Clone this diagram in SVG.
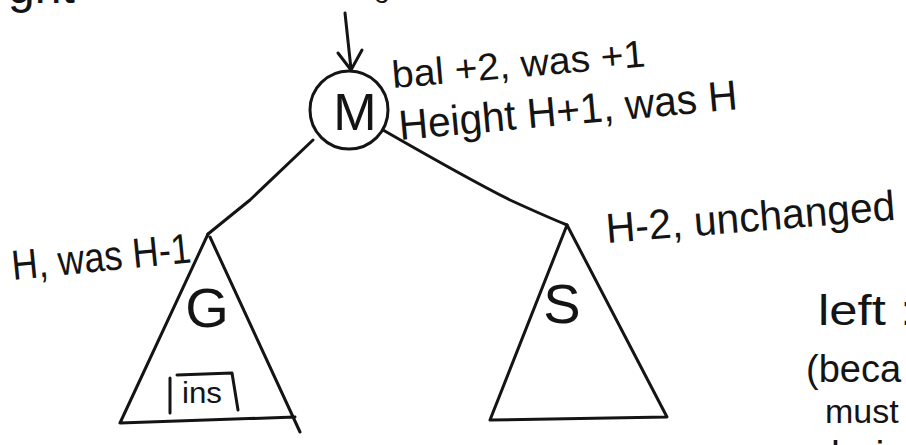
<svg xmlns="http://www.w3.org/2000/svg" width="906" height="445" viewBox="0 0 906 445">
  <style>
    .ink { fill: none; stroke: #141414; stroke-width: 3; stroke-linecap: round; stroke-linejoin: round; }
    .t { font-family: "Liberation Sans", "DejaVu Sans", sans-serif; fill: #141414; }
  </style>
  <rect width="906" height="445" fill="#ffffff"/>

  <g id="connectors">
    <path class="ink" d="M345,13 L351,69"/>
    <path class="ink" d="M338,53 L351,70 L362,50"/>
    <path class="ink" d="M313,140 L250,200 L208,234"/>
    <path class="ink" d="M383,130 Q470,180 510,200 Q545,216 567,225"/>
  </g>

  <g id="node-M">
    <circle class="ink" cx="349" cy="110" r="39"/>
    <text class="t" x="355" y="130" font-size="52" text-anchor="middle">M</text>
  </g>

  <g id="node-G">
    <path class="ink" d="M208,234 L120,423 L295,417 M210,237 L300,432"/>
    <text class="t" x="207" y="327" font-size="56" text-anchor="middle">G</text>
    <path class="ink" d="M170,378 L170,413 M177,375 L232,373 L238,410" stroke-width="2.5"/>
    <text class="t" x="182" y="403" font-size="30" textLength="40" lengthAdjust="spacingAndGlyphs">ins</text>
  </g>

  <g id="node-S">
    <path class="ink" d="M567,225 L490,420 L667,417 L567,225"/>
    <text class="t" x="562" y="323" font-size="56" text-anchor="middle">S</text>
  </g>

  <g id="labels">
    <text class="t" x="393" y="88" font-size="38" textLength="254" lengthAdjust="spacingAndGlyphs" transform="rotate(-4.9 393 88)">bal +2, was +1</text>
    <text class="t" x="400" y="140" font-size="42" textLength="340" lengthAdjust="spacingAndGlyphs" transform="rotate(-5.2 400 140)">Height  H+1, was H</text>
    <text class="t" x="13" y="280" font-size="42" textLength="180" lengthAdjust="spacingAndGlyphs" transform="rotate(-5.7 13 280)">H, was H-1</text>
    <text class="t" x="607" y="243" font-size="42" textLength="290" lengthAdjust="spacingAndGlyphs" transform="rotate(-4.6 607 243)">H-2, unchanged</text>
    <text class="t" x="818" y="325" font-size="42" textLength="96" lengthAdjust="spacingAndGlyphs">left :</text>
    <text class="t" x="806" y="382" font-size="38">(beca</text>
    <text class="t" x="825" y="423" font-size="34">must</text>
    <text class="t" x="831" y="470" font-size="40">bei</text>
    <text class="t" x="8" y="3" font-size="48">ght</text>
    <text class="t" x="374" y="3" font-size="28">o</text>
  </g>
</svg>
